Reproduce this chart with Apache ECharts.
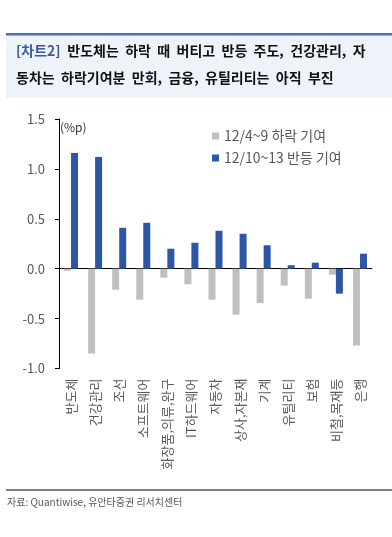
<!DOCTYPE html>
<html><head><meta charset="utf-8">
<script src="https://cdn.jsdelivr.net/npm/echarts@6/dist/echarts.min.js"></script>
<style>html,body{margin:0;padding:0;background:#fff}#c{width:392px;height:537px}</style>
</head><body><div id="c"></div>
<script>
const categories = ['반도체','건강관리','조선','소프트웨어','화장품,의류,완구','IT하드웨어','자동차','상사,자본재','기계','유틸리티','보험','비철,목재등','은행'];
const declineContrib = [-0.02,-0.85,-0.21,-0.31,-0.09,-0.155,-0.31,-0.46,-0.345,-0.17,-0.30,-0.06,-0.77];
const reboundContrib = [1.16,1.12,0.41,0.46,0.20,0.26,0.38,0.35,0.235,0.035,0.06,-0.25,0.15];
const seriesNames = ['12/4~9 하락 기여','12/10~13 반등 기여'];
const yTicks = [-1.0,-0.5,0.0,0.5,1.0,1.5];

const FONT = '"Noto Sans CJK KR", "Noto Sans", sans-serif';
const chart = echarts.init(document.getElementById('c'));
chart.setOption({
  animation:false,
  textStyle:{fontFamily:FONT},
  grid:{left:59,right:20,top:119,bottom:168.5,containLabel:false},
  legend:{
    orient:'vertical',left:207,top:124,itemWidth:7,itemHeight:7,itemGap:8,icon:'rect',
    textStyle:{fontSize:14,color:'#595959',fontFamily:FONT},
    data:seriesNames
  },
  xAxis:[{
    type:'category',data:categories,position:'bottom',
    axisLine:{show:false,onZero:false},axisTick:{show:false},
    axisLabel:{rotate:90,fontSize:13,color:'#595959',margin:10,interval:0,fontFamily:FONT}
  },{
    type:'category',data:categories,
    axisLine:{show:true,onZero:true,lineStyle:{color:'#000',width:1}},
    axisTick:{show:false},axisLabel:{show:false}
  }],
  yAxis:{
    type:'value',min:-1.0,max:1.5,interval:0.5,
    axisLine:{show:true,lineStyle:{color:'#000',width:1}},
    axisTick:{show:true,inside:false,length:4,lineStyle:{color:'#000'}},
    splitLine:{show:false},
    axisLabel:{fontSize:13,color:'#595959',margin:14,fontFamily:FONT,
      formatter:v=>{const t=yTicks.find(x=>Math.abs(x-v)<1e-9);return (t!==undefined?t:v).toFixed(1);}}
  },
  series:[{
    name:seriesNames[0],type:'bar',data:declineContrib,barWidth:7,barGap:'0%',
    itemStyle:{color:'#BFBFBF'}
  },{
    name:seriesNames[1],type:'bar',data:reboundContrib,barWidth:7,barGap:'0%',
    itemStyle:{color:'#2E56A6'}
  }],
  graphic:[
    {type:'rect',z:-1,shape:{x:6,y:33,width:386,height:65},style:{fill:'#EEF3FA'}},
    {type:'rect',shape:{x:6,y:33,width:386,height:2.5},style:{fill:'#4A6FBE'}},
    {type:'text',left:16,top:44,style:{rich:{a:{fill:'#3C5A9A',fontWeight:'bold',fontSize:14,fontFamily:FONT},b:{fill:'#111',fontWeight:'bold',fontSize:14,fontFamily:FONT}},text:'{a|[차트2]}  {b|반도체는  하락  때  버티고  반등  주도,  건강관리,  자}'}},
    {type:'text',left:16,top:71,style:{text:'동차는  하락기여분  만회,  금융,  유틸리티는  아직  부진',fill:'#111',fontWeight:'bold',fontSize:14,fontFamily:FONT}},
    {type:'text',left:60,top:121,style:{text:'(%p)',fill:'#333',fontSize:12,fontFamily:FONT}},
    {type:'rect',shape:{x:6,y:489.5,width:386,height:1},style:{fill:'#000'}},
    {type:'text',left:7,top:497,style:{text:'자료: Quantiwise, 유안타증권 리서치센터',fill:'#595959',fontSize:10,fontFamily:FONT}}
  ]
});
</script></body></html>
